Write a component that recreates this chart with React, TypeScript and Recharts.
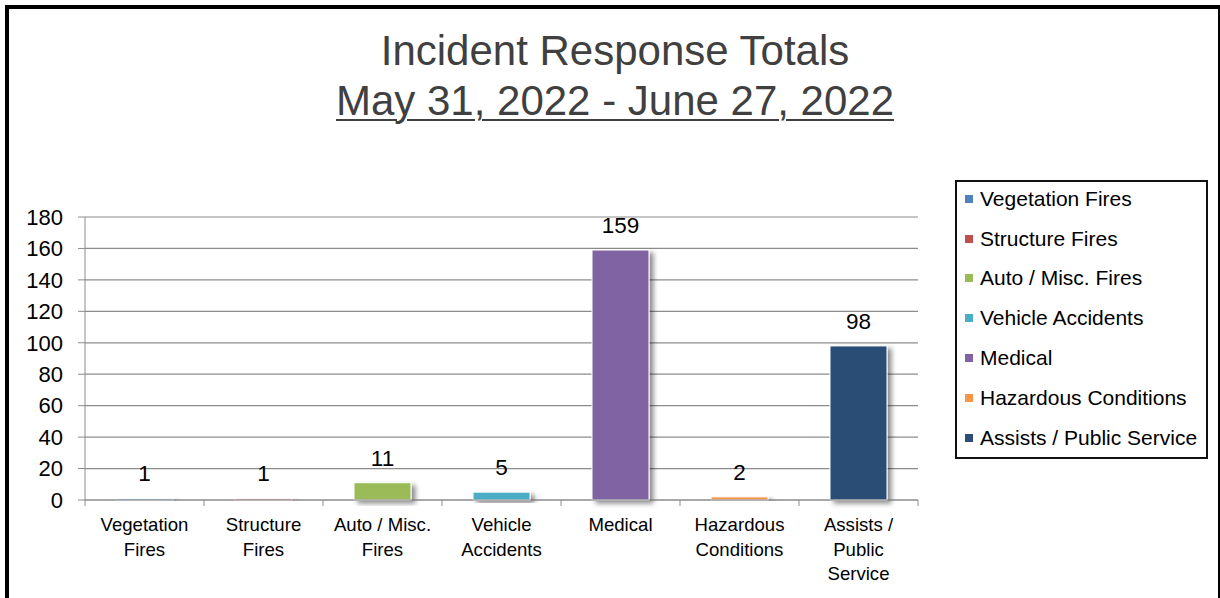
import { Bar, BarChart, CartesianGrid, Cell, LabelList, Legend, XAxis, YAxis } from 'recharts';

const categories = [
  'Vegetation Fires',
  'Structure Fires',
  'Auto / Misc. Fires',
  'Vehicle Accidents',
  'Medical',
  'Hazardous Conditions',
  'Assists / Public Service',
];
const axisLabels = [
  ['Vegetation', 'Fires'],
  ['Structure', 'Fires'],
  ['Auto / Misc.', 'Fires'],
  ['Vehicle', 'Accidents'],
  ['Medical'],
  ['Hazardous', 'Conditions'],
  ['Assists /', 'Public', 'Service'],
];
const totals = [1, 1, 11, 5, 159, 2, 98];
const colors = ['#4F81BD', '#C0504D', '#9BBB59', '#4BACC6', '#8064A2', '#F79646', '#2C4D75'];
const yTicks = [0, 20, 40, 60, 80, 100, 120, 140, 160, 180];

const FONT = "'Liberation Sans', Arial, sans-serif";
const W = 1220;
const H = 598;
const MARGIN = { top: 217, right: 302, bottom: 8, left: 25 };
const Y_WIDTH = 60;
const BAND = (W - MARGIN.left - MARGIN.right - Y_WIDTH) / categories.length;
const AXIS = '#8c8c8c';

const data = categories.map((name, i) => ({ name, total: totals[i], idx: i }));

function CategoryTick(props: any) {
  const { x, y, payload, index } = props;
  const lines = axisLabels[index] ?? [String(payload.value)];
  const top = y - 8;
  return (
    <g>
      <line x1={x - BAND / 2} x2={x - BAND / 2} y1={top} y2={top + 6} stroke={AXIS} />
      {index === categories.length - 1 && (
        <line x1={x + BAND / 2} x2={x + BAND / 2} y1={top} y2={top + 6} stroke={AXIS} />
      )}
      <text x={x} y={top + 31} textAnchor="middle" fontSize={18.6} fill="#000" fontFamily={FONT}>
        {lines.map((l: string, i: number) => (
          <tspan key={i} x={x} dy={i === 0 ? 0 : 24.5}>
            {l}
          </tspan>
        ))}
      </text>
    </g>
  );
}

function ShadowBar(props: any) {
  const { x, y, width, height, fill } = props;
  if (height == null || width == null) return null;
  return (
    <rect
      x={x}
      y={y}
      width={width}
      height={Math.max(height, 0)}
      fill={fill}
      stroke="#fff"
      strokeWidth={1}
      filter="url(#barShadow)"
    />
  );
}

function LegendBox() {
  return (
    <div
      style={{
        width: 253,
        height: 279,
        boxSizing: 'border-box',
        border: '2px solid #111',
        background: '#fff',
        fontFamily: FONT,
        fontSize: 21,
        color: '#000',
        paddingTop: 0,
      }}
    >
      {categories.map((c, i) => (
        <div
          key={c}
          style={{
            height: 39.8,
            marginTop: i === 0 ? -3 : 0,
            display: 'flex',
            alignItems: 'center',
            whiteSpace: 'nowrap',
          }}
        >
          <span
            style={{
              display: 'inline-block',
              width: 8,
              height: 8,
              marginLeft: 8,
              marginRight: 7,
              background: colors[i],
            }}
          />
          {c}
        </div>
      ))}
    </div>
  );
}

export default function App() {
  return (
    <div style={{ position: 'absolute', left: 0, top: 0, width: W, height: H, overflow: 'hidden', background: '#fff' }}>
      <div
        style={{
          position: 'absolute',
          left: 5,
          top: 5,
          width: 1215,
          height: 700,
          boxSizing: 'border-box',
          borderTop: '4px solid #000',
          borderLeft: '4px solid #000',
          borderRight: '2px solid #000',
        }}
      />
      <div
        style={{
          position: 'absolute',
          left: 0,
          top: 26,
          width: 1230,
          textAlign: 'center',
          fontFamily: FONT,
          fontSize: 42,
          lineHeight: '50px',
          color: '#404040',
        }}
      >
        <div>Incident Response Totals</div>
        <div>
          <span style={{ textDecoration: 'underline', textDecorationThickness: 2, textUnderlineOffset: 4 }}>
            May 31, 2022 - June 27, 2022
          </span>
        </div>
      </div>
      <div style={{ position: 'absolute', left: 0, top: 0 }}>
        <BarChart width={W} height={H} data={data} margin={MARGIN}>
          <defs>
            <filter id="barShadow" x="-20%" y="-20%" width="150%" height="150%">
              <feDropShadow dx={4} dy={3} stdDeviation={2.5} floodColor="#000" floodOpacity={0.45} />
            </filter>
          </defs>
          <CartesianGrid vertical={false} stroke={AXIS} strokeWidth={1.2} />
          <XAxis
            dataKey="name"
            interval={0}
            height={90}
            axisLine={{ stroke: AXIS }}
            tickLine={false}
            tick={<CategoryTick />}
          />
          <YAxis
            domain={[0, 180]}
            ticks={yTicks}
            width={Y_WIDTH}
            tickSize={7}
            tickMargin={15}
            axisLine={{ stroke: AXIS }}
            tickLine={{ stroke: AXIS }}
            tick={{ fontSize: 22, fill: '#000', fontFamily: FONT }}
          />
          <Legend
            layout="vertical"
            align="center"
            verticalAlign="middle"
            wrapperStyle={{ left: 955, top: 180, width: 253 }}
            content={() => <LegendBox />}
          />
          <Bar dataKey="total" barSize={57} shape={<ShadowBar />} isAnimationActive={false}>
            {data.map((d) => (
              <Cell key={d.name} fill={colors[d.idx]} />
            ))}
            <LabelList
              dataKey="total"
              position="top"
              offset={17}
              fill="#000"
              fontSize={22.5}
              fontFamily={FONT}
            />
          </Bar>
        </BarChart>
      </div>
    </div>
  );
}
